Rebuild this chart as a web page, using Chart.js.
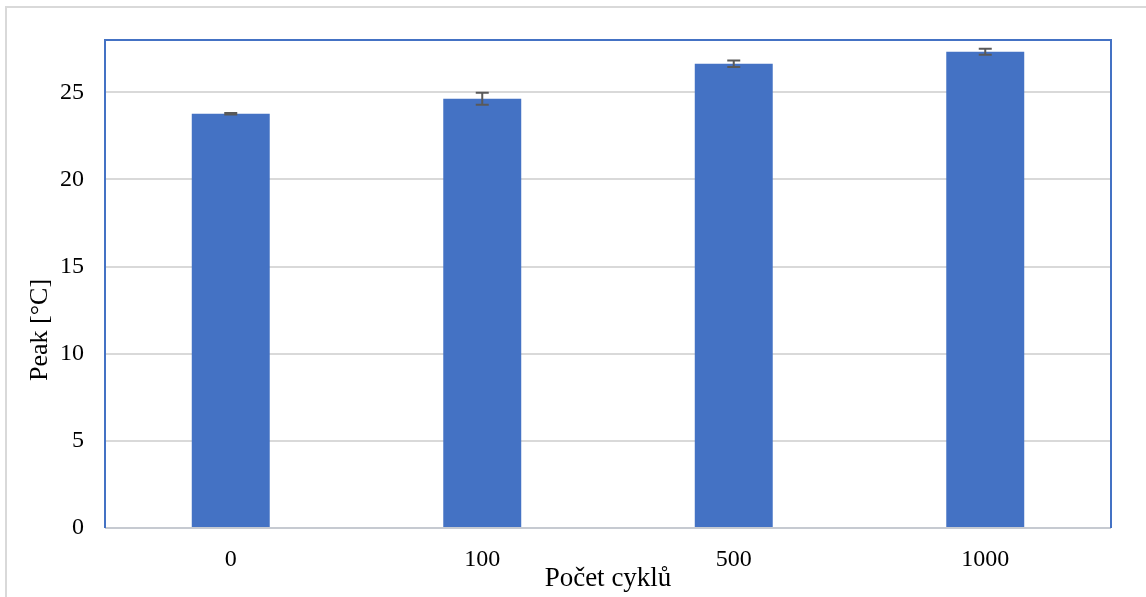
<!DOCTYPE html>
<html>
<head>
<meta charset="utf-8">
<script src="https://cdn.jsdelivr.net/npm/chart.js@4/dist/chart.umd.min.js"></script>
<style>
  body { margin: 0; background: #fff; overflow: hidden; }
  #wrap { position: relative; width: 1146px; height: 597px; }
  #frame {
    position: absolute; left: 5px; top: 6px; width: 2000px; height: 2000px;
    border-left: 2px solid #d9d9d9; border-top: 2px solid #d9d9d9;
  }
  canvas { position: absolute; left: 0; top: 0; }
</style>
</head>
<body>
<div id="wrap">
  <div id="frame"></div>
  <canvas id="peak-chart" width="1146" height="597"></canvas>
</div>
<script>
const cycles = ["0", "100", "500", "1000"];
const peakMean = [23.77, 24.63, 26.64, 27.33];
const peakErr = [0.04, 0.34, 0.19, 0.17];
const yTicks = [0, 5, 10, 15, 20, 25];

const serif = "'Liberation Serif', 'Times New Roman', serif";
const blue = "#4472C4";

// error bars + plot frame drawn on top of the bars
const overlay = {
  id: "overlay",
  afterDatasetsDraw(chart) {
    const ctx = chart.ctx;
    const y = chart.scales.yAxis;
    const meta = chart.getDatasetMeta(0);
    ctx.save();
    ctx.strokeStyle = "#595959";
    ctx.lineWidth = 2;
    meta.data.forEach((bar, i) => {
      const top = y.getPixelForValue(peakMean[i] + peakErr[i]);
      const bot = y.getPixelForValue(peakMean[i] - peakErr[i]);
      ctx.beginPath();
      ctx.moveTo(bar.x, top);
      ctx.lineTo(bar.x, bot);
      ctx.moveTo(bar.x - 6.5, top);
      ctx.lineTo(bar.x + 6.5, top);
      ctx.moveTo(bar.x - 6.5, bot);
      ctx.lineTo(bar.x + 6.5, bot);
      ctx.stroke();
    });

    const a = chart.chartArea;
    ctx.lineWidth = 2;
    ctx.strokeStyle = "#c6cad1";
    ctx.beginPath();
    ctx.moveTo(a.left, a.bottom);
    ctx.lineTo(a.right, a.bottom);
    ctx.stroke();
    ctx.strokeStyle = blue;
    ctx.beginPath();
    ctx.moveTo(a.left, a.bottom);
    ctx.lineTo(a.left, a.top);
    ctx.lineTo(a.right, a.top);
    ctx.lineTo(a.right, a.bottom);
    ctx.stroke();

    // y title sits a bit below the axis middle in the original
    ctx.translate(47, 330);
    ctx.rotate(-Math.PI / 2);
    ctx.font = "26px " + serif;
    ctx.fillStyle = "#000";
    ctx.textAlign = "center";
    ctx.textBaseline = "alphabetic";
    ctx.fillText("Peak [°C]", 0, 0);
    ctx.restore();
  },
};

let config = {
  type: "bar",
  data: {
    labels: cycles,
    datasets: [
      {
        label: "Peak",
        data: peakMean,
        backgroundColor: blue,
        barPercentage: 0.31,
        categoryPercentage: 1,
        xAxisID: "xAxis",
        yAxisID: "yAxis",
      },
    ],
  },
  options: {
    responsive: false,
    animation: false,
    layout: { padding: { left: 0, top: 40, right: 35, bottom: 0 } },
    scales: {
      xAxis: {
        grid: { display: false },
        border: { display: false },
        ticks: { color: "#000", padding: 9, font: { family: serif, size: 24 } },
        title: {
          display: true,
          text: "Počet cyklů",
          color: "#000",
          padding: { top: 0, bottom: 2 },
          font: { family: serif, size: 27 },
        },
        afterFit: (scale) => { scale.height = 69; },
      },
      yAxis: {
        min: 0,
        max: 28,
        border: { display: false },
        grid: {
          drawTicks: false,
          lineWidth: 2,
          color: (c) => (c.tick && c.tick.value === 0 ? "rgba(0,0,0,0)" : "#d9d9d9"),
        },
        ticks: { color: "#000", padding: 21, font: { family: serif, size: 24 } },
        afterBuildTicks: (scale) => {
          scale.ticks = yTicks.map((v) => ({ value: v }));
        },
        afterFit: (scale) => { scale.width = 105; },
      },
    },
    plugins: {
      legend: { display: false },
      tooltip: { enabled: false },
    },
  },
  plugins: [overlay],
};
const peakChart = new Chart(document.getElementById("peak-chart"), config);
</script>
</body>
</html>
